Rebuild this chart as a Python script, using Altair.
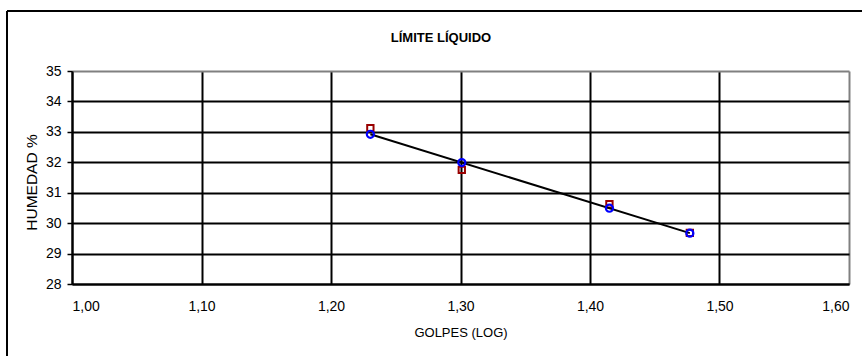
import altair as alt
import pandas as pd

# Liquid limit test: log10 of blow count vs. moisture content (two trials)
golpes_log = [1.2304, 1.3010, 1.4150, 1.4771]
humedad_ensayo_1 = [33.12, 31.75, 30.62, 29.68]
humedad_ensayo_2 = [32.92, 31.99, 30.49, 29.67]

x_ticks = [1.0, 1.1, 1.2, 1.3, 1.4, 1.5, 1.6]
y_ticks = [28, 29, 30, 31, 32, 33, 34, 35]

W, H = 777, 213
FONT = "Liberation Sans"

df = pd.DataFrame({
    "x": golpes_log,
    "h1": humedad_ensayo_1,
    "h2": humedad_ensayo_2,
})

x_scale = alt.Scale(domain=[1.0, 1.6], nice=False, zero=False)
y_scale = alt.Scale(domain=[28, 35], nice=False, zero=False)

x_axis = alt.Axis(
    values=x_ticks,
    labelExpr="replace(format(datum.value, '.2f'), '.', ',')",
    title="GOLPES (LOG)",
    ticks=False,
    tickSize=0,
    labelPadding=15,
    labelOverlap=False,
    titleX=W / 2,
    titleY=52,
    titleBaseline="alphabetic",
    titleFontSize=13,
    gridColor=alt.condition("datum.value >= 1.6", alt.value("#808080"), alt.value("black")),
    gridWidth=2,
    domainColor="black",
    domainWidth=2,
)

y_axis = alt.Axis(
    values=y_ticks,
    title="HUMEDAD %",
    tickSize=5,
    tickWidth=1.5,
    tickColor="black",
    labelPadding=6,
    labelOverlap=False,
    titleX=-41,
    titleY=111,
    titleBaseline="middle",
    titleAlign="center",
    titleFontSize=15.5,
    gridColor=alt.condition("datum.value >= 35", alt.value("#808080"), alt.value("black")),
    gridWidth=2,
    domainColor="black",
    domainWidth=2,
)

X = alt.X("x:Q", scale=x_scale, axis=x_axis)

base = alt.Chart(df)

squares = base.mark_point(
    shape="square", filled=False, color="#990000", size=40, strokeWidth=2, opacity=1
).encode(x=X, y=alt.Y("h1:Q", scale=y_scale, axis=y_axis))

circles = base.mark_point(
    shape="circle", filled=False, color="#0000FF", size=50, strokeWidth=2.2, opacity=1
).encode(x=X, y=alt.Y("h2:Q", scale=y_scale, axis=y_axis))

trend = base.transform_regression("x", "h2").mark_line(
    color="black", strokeWidth=2
).encode(x=X, y=alt.Y("h2:Q", scale=y_scale, axis=y_axis))

# outer chart frame (left and top edges)
frame_left = alt.Chart(df).mark_rule(color="black", strokeWidth=1.5).encode(
    x=alt.value(-65), y=alt.value(-60), y2=alt.value(H + 90)
)
frame_top = alt.Chart(df).mark_rule(color="black", strokeWidth=1.5).encode(
    x=alt.value(-65), x2=alt.value(W + 40), y=alt.value(-60)
)

# chart heading
heading = alt.Chart(pd.DataFrame({"t": ["LÍMITE LÍQUIDO"]})).mark_text(
    font=FONT, fontSize=13, fontWeight="bold", color="black",
    align="center", baseline="alphabetic",
).encode(text="t:N", x=alt.value(369), y=alt.value(-29))

chart = alt.layer(frame_left, frame_top, heading, squares, trend, circles).properties(
    width=W,
    height=H,
    autosize=alt.AutoSizeParams(type="none"),
    padding={"left": 72, "top": 71, "right": 13, "bottom": 72},
    background="white",
).configure_view(
    stroke=None
).configure_axis(
    labelFont=FONT,
    titleFont=FONT,
    labelFontSize=14,
    labelColor="black",
    titleColor="black",
    titleFontWeight="normal",
)

chart.save("out.html", embed_options={"renderer": "svg", "actions": False})
